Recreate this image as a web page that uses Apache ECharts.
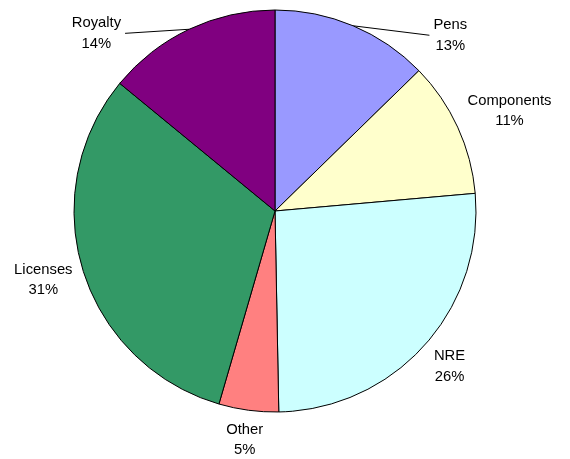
<!DOCTYPE html>
<html>
<head>
<meta charset="utf-8">
<script src="https://cdn.jsdelivr.net/npm/echarts@6/dist/echarts.min.js"></script>
<style>
html,body{margin:0;padding:0;background:#fff;}
#chart{width:570px;height:459px;}
</style>
</head>
<body>
<div id="chart"></div>
<script>
var categories = ['Pens', 'Components', 'NRE', 'Other', 'Licenses', 'Royalty'];
var values = [12.7, 10.9, 26.1, 4.8, 31.45, 14.05];
var colors = ['#9999FF', '#FFFFCC', '#CCFFFF', '#FF8080', '#339966', '#800080'];

// label line styling and label nudges (presentation only)
var lineStyles = {
  'Pens': {show: true, length: 6, length2: 68},
  'Royalty': {show: true, length: 6, length2: 60},
  'Components': {show: false, length: 12, length2: 0},
  'NRE': {show: false, length: 12, length2: 0},
  'Other': {show: false, length: 14, length2: 0},
  'Licenses': {show: false, length: 12, length2: 0}
};
var labelShift = {
  'Pens': [6, 15],
  'Royalty': [-1.5, 9.5],
  'Components': [-5, -11],
  'NRE': [-3.5, 13],
  'Other': [20.5, 16],
  'Licenses': [5, 6]
};

var data = categories.map(function (c, i) {
  return {
    name: c,
    value: values[i],
    itemStyle: {color: colors[i]},
    labelLine: lineStyles[c]
  };
});

var chart = echarts.init(document.getElementById('chart'), null, {renderer: 'canvas'});
chart.setOption({
  animation: false,
  backgroundColor: '#ffffff',
  series: [{
    type: 'pie',
    center: [275, 211],
    radius: 201,
    startAngle: 90,
    clockwise: true,
    avoidLabelOverlap: false,
    data: data,
    itemStyle: {borderColor: '#000', borderWidth: 1},
    label: {
      show: true,
      position: 'outside',
      alignTo: 'none',
      distanceToLabelLine: 4,
      formatter: function (p) {
        return '{a|' + p.name + '}\n{a|' + Math.round(p.percent) + '%}';
      },
      rich: {
        a: {
          fontFamily: 'Liberation Sans, Arial, sans-serif',
          fontSize: 14.8,
          lineHeight: 20.5,
          color: '#000',
          align: 'center'
        }
      }
    },
    labelLine: {
      lineStyle: {color: '#000', width: 1}
    },
    labelLayout: function (params) {
      var name = categories[params.dataIndex];
      var s = labelShift[name];
      var out = {dx: s[0], dy: s[1]};
      var pts = params.labelLinePoints;
      if (pts && lineStyles[name].show) {
        var last = pts[pts.length - 1];
        out.labelLinePoints = [pts[0], [last[0] + s[0], last[1] + s[1]]];
      }
      return out;
    },
    emphasis: {disabled: true}
  }]
});
</script>
</body>
</html>
